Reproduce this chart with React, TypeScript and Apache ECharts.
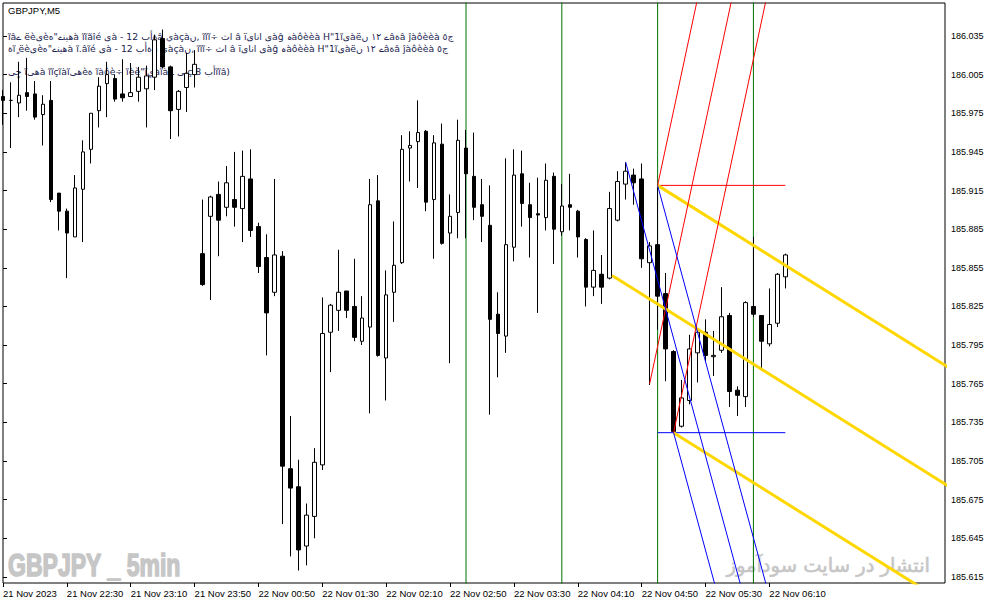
import React, { useEffect, useRef } from "react";
import * as echarts from "echarts";

// ---- candle data (GBPJPY M5) ----
const opens = [
  185.988, 185.985, 185.983, 185.991, 185.990, 185.974, 185.985, 185.913, 185.899, 185.879,
  185.916, 185.947, 185.977, 185.998, 186.002, 185.990, 185.988, 185.992, 185.994, 186.003,
  186.033, 186.011, 185.978, 185.995, 186.005, 185.866, 185.895, 185.912, 185.902, 185.908,
  185.901, 185.924, 185.887, 185.863, 185.836, 185.864, 185.699, 185.685, 185.639, 185.662,
  185.702, 185.805, 185.822, 185.837, 185.825, 185.798, 185.809, 185.907, 185.785, 185.836,
  185.859, 185.948, 185.953, 185.961, 185.908, 185.951, 185.882, 185.898, 185.948, 185.926,
  185.904, 185.888, 185.819, 185.802, 185.871, 185.928, 185.904, 185.897, 185.894, 185.926,
  185.883, 185.904, 185.899, 185.877, 185.840, 185.850, 185.847, 185.892, 185.920, 185.927,
  185.924, 185.859, 185.873, 185.835, 185.790, 185.732, 185.752, 185.789, 185.805, 185.786,
  185.791, 185.818, 185.760, 185.755, 185.825, 185.818, 185.796, 185.812, 185.848,
];
const closes = [
  185.985, 185.985, 185.989, 185.988, 185.972, 185.982, 185.908, 185.899, 185.882, 185.917,
  185.945, 185.975, 185.996, 186.005, 185.986, 185.987, 185.991, 186.003, 186.004, 186.032,
  186.011, 185.977, 185.992, 186.006, 186.013, 185.842, 185.910, 185.892, 185.921, 185.902,
  185.926, 185.884, 185.856, 185.820, 185.865, 185.701, 185.684, 185.636, 185.663, 185.704,
  185.804, 185.826, 185.836, 185.822, 185.801, 185.816, 185.904, 185.787, 185.834, 185.857,
  185.947, 185.950, 185.960, 185.906, 185.952, 185.874, 185.895, 185.954, 185.928, 185.902,
  185.895, 185.815, 185.804, 185.873, 185.927, 185.905, 185.894, 185.896, 185.923, 185.885,
  185.903, 185.902, 185.879, 185.840, 185.853, 185.840, 185.901, 185.922, 185.930, 185.921,
  185.862, 185.872, 185.833, 185.792, 185.728, 185.754, 185.792, 185.805, 185.787, 185.787,
  185.817, 185.759, 185.756, 185.828, 185.819, 185.798, 185.811, 185.850, 185.865,
];
const highs = [
  185.993, 185.999, 186.015, 186.018, 186.000, 185.989, 186.000, 185.913, 185.901, 185.927,
  185.954, 185.975, 186.003, 186.015, 186.005, 186.017, 186.014, 186.011, 186.012, 186.036,
  186.040, 186.012, 185.993, 186.022, 186.024, 185.908, 185.911, 185.922, 185.934, 185.945,
  185.946, 185.947, 185.890, 185.881, 185.924, 185.868, 185.740, 185.706, 185.672, 185.715,
  185.832, 185.827, 185.869, 185.837, 185.862, 185.833, 185.924, 185.927, 185.853, 185.891,
  185.958, 185.961, 185.985, 185.962, 185.958, 185.967, 185.912, 185.970, 185.962, 185.960,
  185.924, 185.919, 185.836, 185.940, 185.947, 185.946, 185.921, 185.925, 185.936, 185.929,
  185.920, 185.928, 185.900, 185.878, 185.884, 185.865, 185.914, 185.930, 185.937, 185.932,
  185.936, 185.875, 185.919, 185.851, 185.791, 185.768, 185.803, 185.808, 185.815, 185.806,
  185.840, 185.820, 185.763, 185.829, 185.879, 185.818, 185.839, 185.851, 185.866,
];
const lows = [
  185.966, 185.948, 185.972, 185.977, 185.970, 185.950, 185.906, 185.884, 185.847, 185.879,
  185.875, 185.936, 185.964, 185.972, 185.984, 185.984, 185.988, 185.984, 185.964, 185.993,
  186.010, 185.955, 185.957, 185.976, 185.995, 185.841, 185.830, 185.864, 185.895, 185.887,
  185.875, 185.879, 185.851, 185.787, 185.833, 185.656, 185.631, 185.620, 185.624, 185.645,
  185.698, 185.774, 185.806, 185.816, 185.798, 185.795, 185.742, 185.786, 185.752, 185.813,
  185.858, 185.922, 185.917, 185.899, 185.862, 185.873, 185.781, 185.878, 185.878, 185.892,
  185.875, 185.741, 185.770, 185.789, 185.860, 185.887, 185.863, 185.820, 185.884, 185.858,
  185.880, 185.884, 185.863, 185.825, 185.833, 185.827, 185.846, 185.891, 185.908, 185.904,
  185.855, 185.764, 185.807, 185.767, 185.727, 185.731, 185.749, 185.766, 185.782, 185.771,
  185.789, 185.747, 185.740, 185.747, 185.817, 185.775, 185.794, 185.809, 185.839,
];

// ---- axes ----
const SLOT_COUNT = 119; // bars + empty space on the right
const sessions = [
  { from: 0, day: "21 Nov", startMin: 21 * 60 + 50 },
  { from: 25, day: "22 Nov", startMin: 15 },
];
const tickIndices = [0, 8, 16, 24, 32, 40, 48, 56, 64, 72, 80, 88, 96];
const tickLabels = [
  "21 Nov 2023", "21 Nov 22:30", "21 Nov 23:10", "21 Nov 23:50", "22 Nov 00:50",
  "22 Nov 01:30", "22 Nov 02:10", "22 Nov 02:50", "22 Nov 03:30", "22 Nov 04:10",
  "22 Nov 04:50", "22 Nov 05:30", "22 Nov 06:10",
];
const priceTicks = [
  185.615, 185.645, 185.675, 185.705, 185.735, 185.765, 185.795, 185.825,
  185.855, 185.885, 185.915, 185.945, 185.975, 186.005, 186.035,
];
const PRICE_MIN = 185.6103;
const PRICE_MAX = 186.0606;

// ---- drawn objects (anchors: [bar index, price]) ----
const pivotHigh = [82, 185.919];
const pivotLow = [84, 185.727];
const pitchforkHandles = [
  { color: "#FFD700", width: 3, handle: [76.3, 185.849] },
  { color: "#FF0000", width: 1, handle: [81, 185.765] },
  { color: "#0000FF", width: 1, handle: [78, 185.937] },
];
const levelLines = [
  { color: "#FF0000", from: 82, to: 98, price: 185.919 },
  { color: "#0000FF", from: 82, to: 98, price: 185.727 },
];
const verticalLines = [58, 70, 82, 94];

const LRO = "\u202D";
const header1 =
  LRO + "ĩâے ëèیèه\"ےنیهà ĩĩãîé یà - 12 بأةâ يàçàن, ĩĩĩ÷ ثا â ïیانا یàĝ ہàôèèà H\"1ĩیàëں ١٢ ےâةâ ĵàôèèà ٥ج";
const header2 =
  LRO + "ةĩٍ ëèیèه\"ےنیهà ĩ.âĩé یà - 12 بأةâ يàçàن, ĩĩĩ÷ ثا â ïیانا یàĝ ہàôèèà H\"1ĩیàëں ١٢ ےâةâ ĵàôèèà ٥ج";
const header3 = LRO + "ىجٍ ĩیهà ĩĩçĩàĩیهèة ĩàôè÷ ĩèè\"ĩیٍàĩà ـ ىںç 8 بأĩĩâ)";

function buildCategories(): string[] {
  const out: string[] = [];
  for (let i = 0; i < SLOT_COUNT; i++) {
    const s = i >= sessions[1].from ? sessions[1] : sessions[0];
    const m = s.startMin + (i - s.from) * 5;
    const hh = Math.floor(m / 60) % 24;
    const mm = m % 60;
    out.push(`${s.day} ${String(hh).padStart(2, "0")}:${String(mm).padStart(2, "0")}`);
  }
  return out;
}

function ray(start: number[], dir: number[], k = 40) {
  return [
    [start[0], start[1]],
    [start[0] + dir[0] * k, start[1] + dir[1] * k],
  ];
}

export default function App() {
  const ref = useRef<HTMLDivElement>(null);

  useEffect(() => {
    if (!ref.current) return;
    const chart = echarts.init(ref.current, undefined, { renderer: "svg" });
    const categories = buildCategories();
    const tickMap: Record<number, string> = {};
    tickIndices.forEach((idx, k) => (tickMap[idx] = tickLabels[k]));
    const candleData = opens.map((o, i) => [o, closes[i], lows[i], highs[i]]);

    const mid = [(pivotHigh[0] + pivotLow[0]) / 2, (pivotHigh[1] + pivotLow[1]) / 2];
    const forkSeries: any[] = [];
    pitchforkHandles.forEach((pf) => {
      const dir = [mid[0] - pf.handle[0], mid[1] - pf.handle[1]];
      [pf.handle, pivotHigh, pivotLow].forEach((p) => {
        forkSeries.push({
          type: "line",
          xAxisIndex: 1,
          yAxisIndex: 0,
          data: ray(p, dir),
          symbol: "none",
          silent: true,
          clip: true,
          z: 4,
          lineStyle: { color: pf.color, width: pf.width },
        });
      });
    });
    const levelSeries = levelLines.map((l) => ({
      type: "line",
      xAxisIndex: 1,
      yAxisIndex: 0,
      data: [
        [l.from, l.price],
        [l.to, l.price],
      ],
      symbol: "none",
      silent: true,
      clip: true,
      z: 3,
      lineStyle: { color: l.color, width: 1 },
    }));
    const vSeries = verticalLines.map((v) => ({
      type: "line",
      xAxisIndex: 1,
      yAxisIndex: 0,
      data: [
        [v, PRICE_MIN - 1],
        [v, PRICE_MAX + 1],
      ],
      symbol: "none",
      silent: true,
      clip: true,
      z: 1,
      lineStyle: { color: "#007000", width: 1 },
    }));

    const font = "Liberation Sans, Arial, sans-serif";
    const headFont = "DejaVu Sans, sans-serif";
    chart.setOption({
      animation: false,
      backgroundColor: "#ffffff",
      grid: {
        left: 3,
        right: 46,
        top: 3,
        bottom: 22,
        show: true,
        borderColor: "#000",
        borderWidth: 1,
        backgroundColor: "transparent",
      },
      xAxis: [
        {
          type: "category",
          data: categories,
          boundaryGap: false,
          axisLine: { show: false },
          axisTick: {
            show: true,
            interval: (i: number) => tickMap[i] !== undefined,
            length: 4,
            lineStyle: { color: "#000" },
          },
          axisLabel: {
            interval: (i: number) => tickMap[i] !== undefined,
            formatter: (_v: string, i: number) => tickMap[i] ?? "",
            align: "left",
            color: "#000",
            fontSize: 9.5,
            fontFamily: font,
            margin: 5,
          },
          splitLine: { show: false },
        },
        { type: "value", min: 0, max: SLOT_COUNT - 1, show: false },
      ],
      yAxis: {
        type: "value",
        position: "right",
        min: PRICE_MIN,
        max: PRICE_MAX,
        axisLine: { show: false },
        axisTick: {
          show: true,
          customValues: priceTicks,
          length: 4,
          lineStyle: { color: "#000" },
        },
        axisLabel: {
          customValues: priceTicks,
          formatter: (v: number) => v.toFixed(3),
          color: "#000",
          fontSize: 9,
          fontFamily: font,
          margin: 6,
        },
        splitLine: { show: false },
      },
      series: [
        ...vSeries,
        {
          type: "candlestick",
          xAxisIndex: 0,
          yAxisIndex: 0,
          data: candleData,
          barWidth: 4,
          z: 2,
          silent: true,
          itemStyle: {
            color: "#ffffff",
            color0: "#000000",
            borderColor: "#000000",
            borderColor0: "#000000",
            borderWidth: 1,
          },
        },
        ...levelSeries,
        ...forkSeries,
      ],
      graphic: [
        {
          type: "text",
          x: 8,
          y: 10,
          z: 1,
          style: { text: "GBPJPY,M5", fill: "#000", fontSize: 9.5, fontFamily: font, verticalAlign: "middle" },
        },
        {
          type: "text",
          x: 8,
          y: 36,
          z: 1,
          style: { text: header1, fill: "#1c2450", fontSize: 9.3, fontFamily: headFont, verticalAlign: "middle" },
        },
        {
          type: "text",
          x: 8,
          y: 48,
          z: 1,
          style: { text: header2, fill: "#1c2450", fontSize: 9.3, fontFamily: headFont, verticalAlign: "middle" },
        },
        {
          type: "text",
          x: 8,
          y: 71,
          z: 1,
          style: { text: header3, fill: "#1c2450", fontSize: 9.3, fontFamily: headFont, verticalAlign: "middle" },
        },
        {
          type: "text",
          x: 8,
          y: 565,
          scaleX: 0.72,
          z: 1,
          style: {
            text: "GBPJPY _ 5min",
            fill: "#c6c6c6",
            stroke: "#c6c6c6",
            lineWidth: 1.6,
            fontSize: 32,
            fontWeight: "bold",
            fontFamily: font,
            verticalAlign: "middle",
          },
        },
        {
          type: "text",
          x: 930,
          y: 565,
          z: 1,
          style: {
            text: "انتشار در سایت سودآموز",
            fill: "#c6c6c6",
            stroke: "#c6c6c6",
            lineWidth: 0.6,
            fontSize: 19.5,
            fontFamily: "DejaVu Sans, sans-serif",
            align: "right",
            verticalAlign: "middle",
          },
        },
      ],
    });
    return () => chart.dispose();
  }, []);

  return (
    <div
      ref={ref}
      style={{ position: "absolute", left: 0, top: 0, width: 991, height: 605, background: "#fff" }}
    />
  );
}
